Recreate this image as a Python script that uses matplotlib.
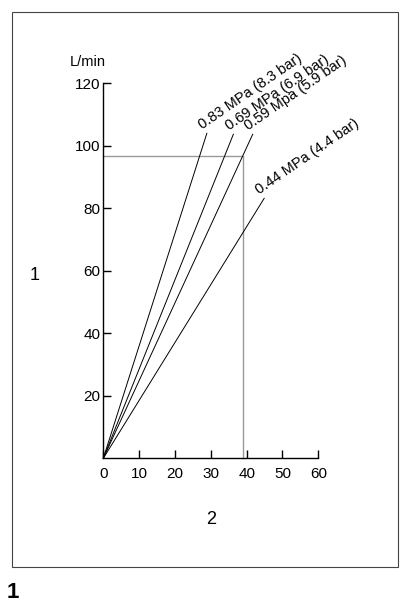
import matplotlib.pyplot as plt
from matplotlib.patches import Rectangle

labels = ["0.83 MPa (8.3 bar)", "0.69 MPa (6.9 bar)", "0.59 Mpa (5.9 bar)", "0.44 MPa (4.4 bar)"]
end_x = [28.9, 36.3, 41.7, 44.9]
end_y = [104.0, 103.7, 103.7, 83.2]
ref_x, ref_y = 39.1, 96.8
xticks = [0, 10, 20, 30, 40, 50, 60]
yticks = [20, 40, 60, 80, 100, 120]

plt.rcParams['font.family'] = ['Liberation Sans', 'DejaVu Sans']
fig = plt.figure(figsize=(4.06, 6.03), dpi=100)
fig.patches.append(Rectangle((12/406, 1 - 567/603), 386/406, 555/603, transform=fig.transFigure,
                             fill=False, edgecolor='#444444', linewidth=0.8))

ax = fig.add_axes([103.3/406, 1 - 458.3/603, 215/406, 375/603])
ax.set_xlim(0, 60)
ax.set_ylim(0, 120)
for s in ['top', 'right']:
    ax.spines[s].set_visible(False)
ax.spines['left'].set_linewidth(1.0)
ax.spines['bottom'].set_linewidth(1.0)
ax.set_xticks(xticks)
ax.set_yticks(yticks)
ax.tick_params(direction='in', length=6, labelsize=11, width=1.0, pad=6)
ax.tick_params(axis='y', pad=2)
ax.patch.set_visible(False)

ax.plot([0, ref_x, ref_x], [ref_y, ref_y, 0], color='#999999', linewidth=1.0, clip_on=False)
for lab, x, y in zip(labels, end_x, end_y):
    ax.plot([0, x], [0, y], color='black', linewidth=0.7, clip_on=False)
    ax.text(x - 0.8, y + 0.5, lab, rotation=34.5, rotation_mode='anchor', fontsize=10.5,
            ha='left', va='bottom', clip_on=False)

fig.text(88/406, 1 - 62/603, "L/min", fontsize=10.5, ha='center', va='center')
fig.text(35/406, 1 - 275/603, "1", fontsize=13, ha='center', va='center')
fig.text(211/406, 1 - 520/603, "2", fontsize=13, ha='center', va='center')
fig.text(13/406, 1 - 592/603, "1", fontsize=16, fontweight='bold', ha='center', va='center')

fig.savefig("out.png", dpi=100)
